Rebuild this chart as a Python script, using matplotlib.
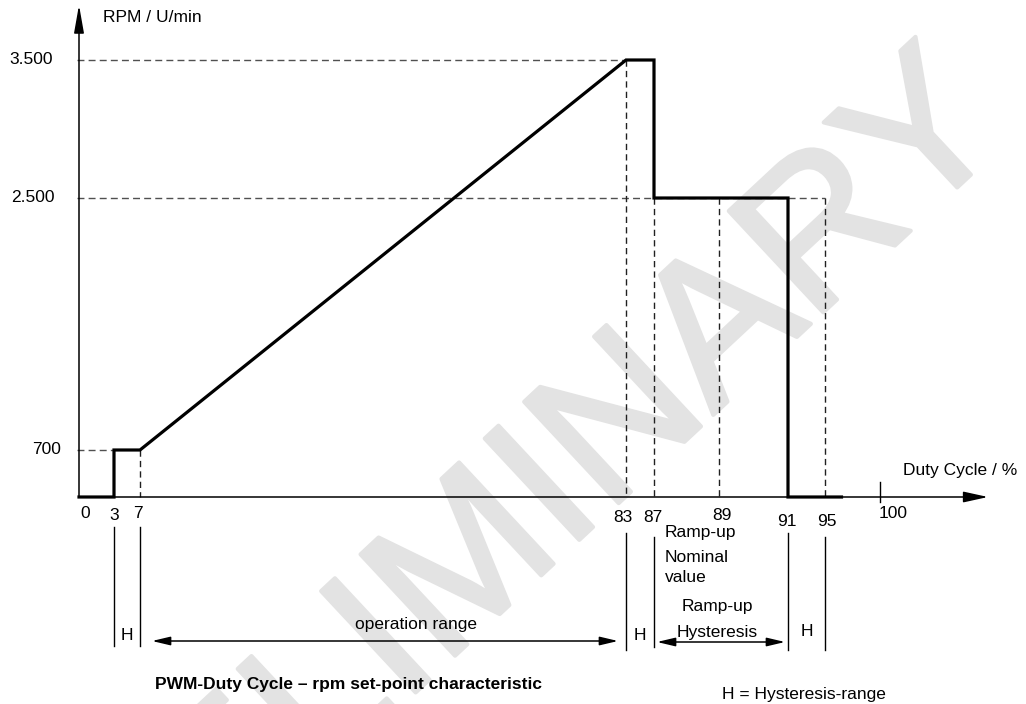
import numpy as np
import matplotlib
matplotlib.use("Agg")
import matplotlib.pyplot as plt
import matplotlib.patheffects as pe

# PWM duty cycle (%) -> speed set-point (rpm) characteristic
duty = [0, 3, 3, 7, 83, 87, 87, 91, 91, 96.5]
rpm = [0, 0, 700, 700, 3500, 3500, 2500, 2500, 0, 0]

# labelled duty cycle values and speed levels
duty_ticks = [0, 3, 7, 83, 87, 89, 91, 95, 100]
duty_labels = ["0", "3", "7", "83", "87", "89", "91", "95", "100"]
rpm_ticks = [700, 2500, 3500]
rpm_labels = ["700", "2.500", "3.500"]

# dashed guides: speed level -> duty cycle where the guide ends
rpm_guide_level = [700, 2500, 3500]
rpm_guide_end = [3, 95, 83]
# dashed guides: duty cycle -> speed level where the guide starts
duty_guide_pos = [7, 83, 87, 89, 95]
duty_guide_top = [700, 3500, 2500, 2500, 2500]

# hysteresis / range markers below the axis
range_marks = [3, 7, 83, 87, 91, 95]

# ---------------------------------------------------------------- layout
W, H = 1026, 704
FONT = "Liberation Sans"
FS = 12.5
WM_COLOR = "#e3e3e3"

# schematic (non-proportional) axes: value -> pixel breakpoints
X_PIX = [79, 114, 140, 626, 654, 719, 788, 825, 880]
Y_KNOTS = [0, 700, 2500, 3500]
Y_PIX = [497, 450, 198, 60]


def piecewise(src, dst):
    src = np.asarray(src, float)
    dst = np.asarray(dst, float)
    lo = (dst[1] - dst[0]) / (src[1] - src[0])
    hi = (dst[-1] - dst[-2]) / (src[-1] - src[-2])

    def f(v):
        v = np.asarray(v, float)
        out = np.interp(v, src, dst)
        out = np.where(v < src[0], dst[0] + (v - src[0]) * lo, out)
        out = np.where(v > src[-1], dst[-1] + (v - src[-1]) * hi, out)
        return out
    return f


fx = piecewise(duty_ticks, X_PIX)
fx_inv = piecewise(X_PIX, duty_ticks)
neg_y = [-p for p in Y_PIX]
fy = piecewise(Y_KNOTS, neg_y)
fy_inv = piecewise(neg_y, Y_KNOTS)

fig = plt.figure(figsize=(W / 100, H / 100), dpi=100)
ax = fig.add_axes([0, 0, 1, 1])
ax.set_xscale("function", functions=(fx, fx_inv))
ax.set_yscale("function", functions=(fy, fy_inv))
ax.set_xlim(float(fx_inv(0)), float(fx_inv(W)))
ax.set_ylim(float(fy_inv(-H)), float(fy_inv(0)))
ax.axis("off")

xt = ax.get_xaxis_transform()   # x in data, y in axes fraction
yt = ax.get_yaxis_transform()   # x in axes fraction, y in data


def fy_px(py):
    return 1 - py / H


# watermark
ax.text(480 / W, fy_px(562), "PRELIMINARY", transform=ax.transAxes,
        fontsize=145, family=FONT, color=WM_COLOR,
        rotation=43, rotation_mode="anchor", ha="center", va="center",
        zorder=0,
        path_effects=[pe.withStroke(linewidth=3, foreground=WM_COLOR)])

# axes with arrow heads
ax.annotate("", xy=(988 / W, 0), xycoords=("axes fraction", "data"),
            xytext=(0, 0), textcoords="data",
            arrowprops=dict(arrowstyle="-|>,head_length=1.5,head_width=0.33",
                            mutation_scale=10, lw=1.1, color="black",
                            shrinkA=0, shrinkB=0), zorder=3)
ax.annotate("", xy=(0, fy_px(5)), xycoords=xt,
            xytext=(0, 0), textcoords="data",
            arrowprops=dict(arrowstyle="-|>,head_length=1.7,head_width=0.3",
                            mutation_scale=10, lw=1.1, color="black",
                            shrinkA=0, shrinkB=0), zorder=3)

# tick mark at 100 %
ax.plot([100, 100], [fy_px(482), fy_px(502)], transform=xt,
        color="black", lw=1.0, zorder=3)

# dashed guides
for lvl, end in zip(rpm_guide_level, rpm_guide_end):
    ax.plot([fx_inv(77), end], [lvl, lvl], color="#505050", lw=1.0,
            dashes=(5, 3), zorder=2)
for pos, top in zip(duty_guide_pos, duty_guide_top):
    ax.plot([pos, pos], [top, 0], color="#202020", lw=1.0,
            dashes=(4.5, 3), zorder=2)

# characteristic curve
ax.plot(duty, rpm, color="black", lw=2.3, solid_joinstyle="miter", zorder=4)

# axis titles
ax.text(103 / W, fy_px(17), "RPM / U/min", transform=ax.transAxes,
        fontsize=FS, family=FONT, ha="left", va="center")
ax.text(903 / W, fy_px(470), "Duty Cycle / %", transform=ax.transAxes,
        fontsize=FS, family=FONT, ha="left", va="center")

# speed labels
rpm_label_right = [61, 55, 53]
for val, lab, rx in zip(rpm_ticks, rpm_labels, rpm_label_right):
    ax.text(rx / W, val, lab, transform=yt, fontsize=FS, family=FONT,
            ha="right", va="center")

# duty cycle labels (pixel offsets follow the hand-drawn placement)
label_dx = [6, 0, -2, -3, -1, 3, -1, 2, 13]
label_y = [514, 515, 514, 518, 518, 516, 522, 521, 514]
for val, lab, dx, py in zip(duty_ticks, duty_labels, label_dx, label_y):
    ax.annotate(lab, xy=(val, fy_px(py)), xycoords=xt,
                xytext=(dx, 0), textcoords="offset pixels",
                fontsize=FS, family=FONT, ha="center", va="center")

# range markers below the axis
mark_top = [527, 527, 533, 537, 533, 537]
mark_bot = [646, 646, 650, 647, 650, 650]
for pos, t, b in zip(range_marks, mark_top, mark_bot):
    ax.plot([pos, pos], [fy_px(t), fy_px(b)], transform=xt,
            color="black", lw=1.0, zorder=3)

# hysteresis letters
for a, b, py in [(3, 7, 635), (83, 87, 635), (91, 95, 631)]:
    xm = fx_inv((fx(a) + fx(b)) / 2)
    ax.text(float(xm), fy_px(py), "H", transform=xt, fontsize=FS,
            family=FONT, ha="center", va="center")

# range arrows
arrow_kw = dict(arrowstyle="<|-|>,head_length=1.1,head_width=0.26",
                mutation_scale=10, lw=1.1, color="black",
                shrinkA=0, shrinkB=0)
ax.annotate("", xy=(float(fx_inv(618)), fy_px(641)), xycoords=xt,
            xytext=(float(fx_inv(152)), fy_px(641)), textcoords=xt,
            arrowprops=arrow_kw)
ax.annotate("", xy=(float(fx_inv(785)), fy_px(642)), xycoords=xt,
            xytext=(float(fx_inv(657)), fy_px(642)), textcoords=xt,
            arrowprops=arrow_kw)

ax.text(416 / W, fy_px(624), "operation range", transform=ax.transAxes,
        fontsize=FS, family=FONT, ha="center", va="center")
ax.text(717 / W, fy_px(606), "Ramp-up", transform=ax.transAxes,
        fontsize=FS, family=FONT, ha="center", va="center")
ax.text(717 / W, fy_px(632), "Hysteresis", transform=ax.transAxes,
        fontsize=FS, family=FONT, ha="center", va="center")

ax.text(665 / W, fy_px(533), "Ramp-up", transform=ax.transAxes,
        fontsize=FS, family=FONT, ha="left", va="center")
ax.text(665 / W, fy_px(558), "Nominal", transform=ax.transAxes,
        fontsize=FS, family=FONT, ha="left", va="center")
ax.text(665 / W, fy_px(578), "value", transform=ax.transAxes,
        fontsize=FS, family=FONT, ha="left", va="center")

ax.text(155 / W, fy_px(685),
        "PWM-Duty Cycle \u2013 rpm set-point characteristic",
        transform=ax.transAxes, fontsize=FS, family=FONT,
        fontweight="bold", ha="left", va="center")
ax.text(722 / W, fy_px(695), "H = Hysteresis-range", transform=ax.transAxes,
        fontsize=FS, family=FONT, ha="left", va="center")

fig.savefig("out.png", dpi=100, facecolor="white")
